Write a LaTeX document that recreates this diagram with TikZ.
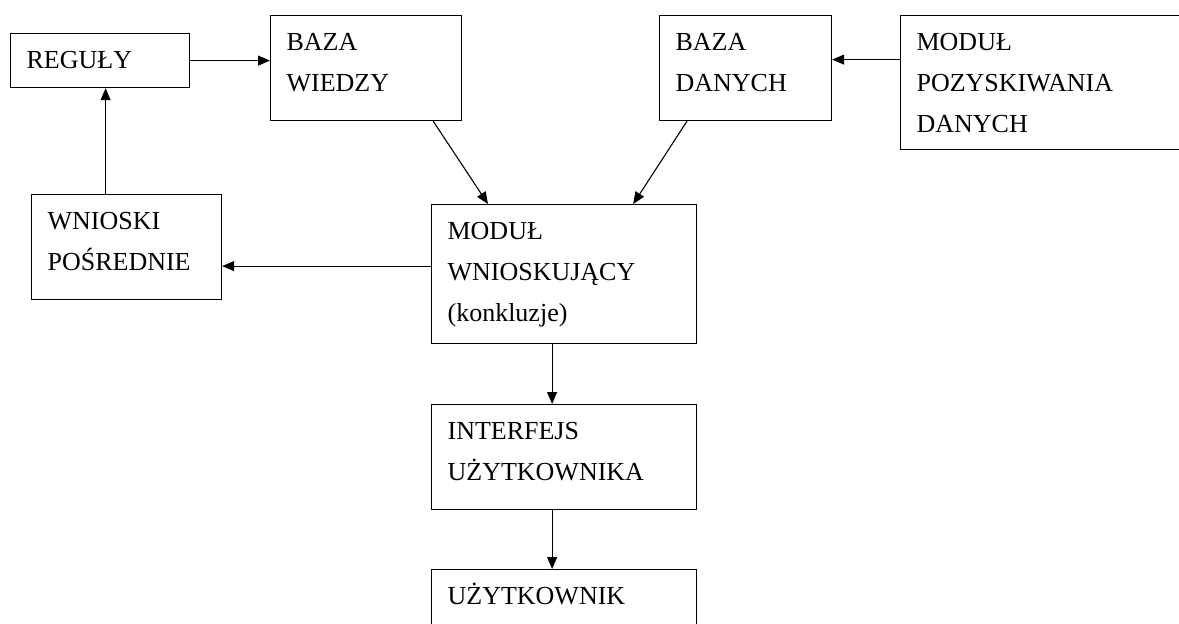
\documentclass[tikz,border=0pt]{standalone}
\usepackage{fontspec}
\setmainfont{Liberation Serif}
\usetikzlibrary{arrows.meta}
\hyphenpenalty=10000

\tikzset{
  box/.style={draw, line width=1.2pt, anchor=north west, inner xsep=16pt, inner ysep=0pt,
    align=left, font=\fontsize{26}{41}\selectfont, text height=35pt},
  arr/.style={-{Triangle[length=12pt,width=10pt]}, line width=1.1pt}
}

\begin{document}
\begin{tikzpicture}[x=1pt, y=-1pt]
    \clip (0, 0) rectangle (1179, 624);

    \node [box, text width=147pt, text depth=19pt] (rg) at (10, 33) {REGUŁY};
    \node [box, text width=159pt, text depth=70pt] (bw) at (270, 15) {BAZA\\WIEDZY};
    \node [box, text width=140pt, text depth=70pt] (bd) at (659, 15) {BAZA\\DANYCH};
    \node [box, text width=268pt, text depth=99pt] (mp) at (900, 15) {MODUŁ\\POZYSKIWANIA\\DANYCH};
    \node [box, text width=158pt, text depth=70pt] (wp) at (31, 194) {WNIOSKI\\POŚREDNIE};
    \node [box, text width=233pt, text depth=104pt] (mw) at (431, 204) {MODUŁ\\WNIOSKUJĄCY\\(konkluzje)};
    \node [box, text width=233pt, text depth=70pt] (iu) at (431, 404) {INTERFEJS\\UŻYTKOWNIKA};
    \node [box, text width=233pt, text depth=65pt] (uz) at (431, 569) {UŻYTKOWNIK};

    \draw [arr] (rg.east) -- (rg.east -| bw.west);
    \draw [arr] ([yshift=23pt]mp.west) -- ([yshift=23pt]mp.west -| bd.east);
    \draw [arr] ([xshift=-21pt]wp.north) -- ([xshift=-21pt]wp.north |- rg.south);
    \draw [arr] ([yshift=8pt]mw.west) -- ([yshift=8pt]mw.west -| wp.east);
    \draw [arr] ([xshift=-29pt]bw.south east) -- ([xshift=57pt]mw.north west);
    \draw [arr] ([xshift=28pt]bd.south west) -- ([xshift=-64pt]mw.north east);
    \draw [arr] ([xshift=-12pt]mw.south) -- ([xshift=-12pt]iu.north);
    \draw [arr] ([xshift=-12pt]iu.south) -- ([xshift=-12pt]uz.north);
\end{tikzpicture}
\end{document}
